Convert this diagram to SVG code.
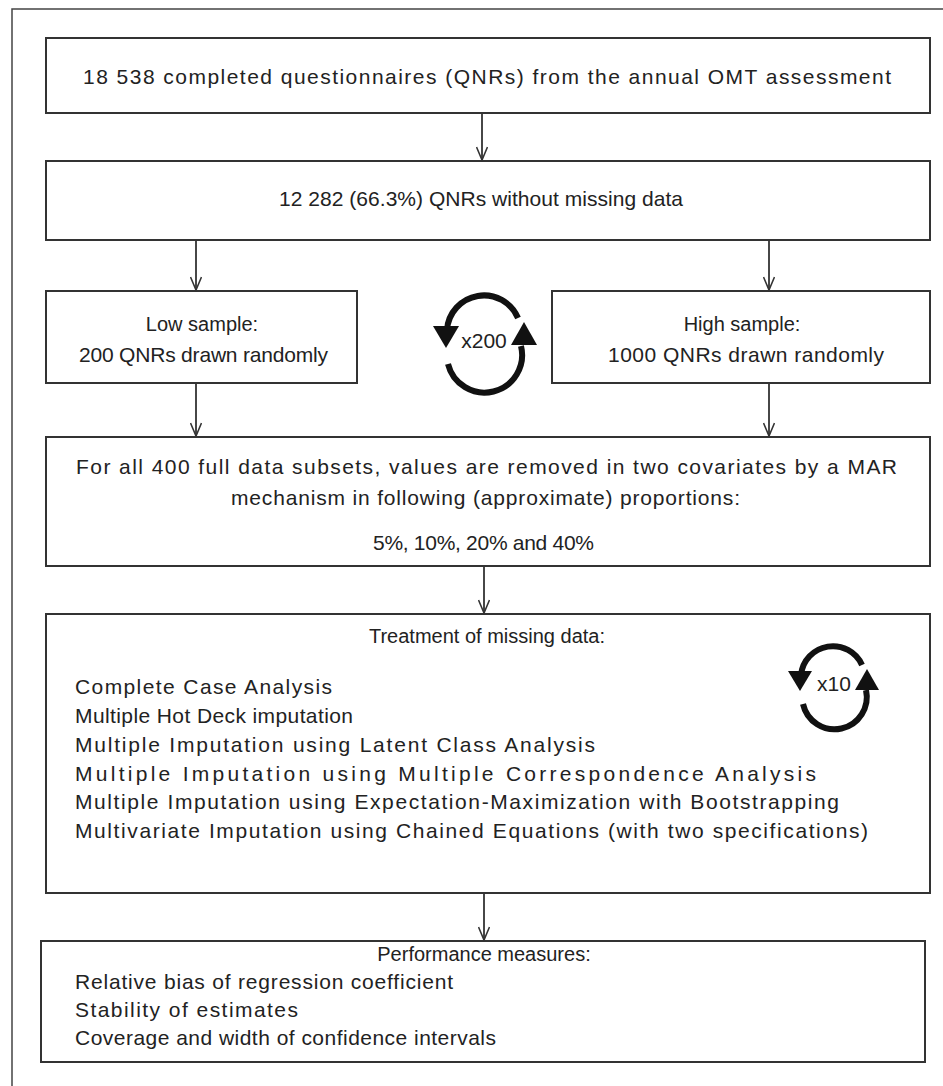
<svg xmlns="http://www.w3.org/2000/svg" width="943" height="1086" viewBox="0 0 943 1086">
<style>
.box{fill:#fff;stroke:#333;stroke-width:2}
.t{font-family:"Liberation Sans",Arial,sans-serif;font-size:21px;fill:#222}
.h{font-size:20px}
.c{text-anchor:middle}
.con{stroke:#333;stroke-width:1.8;fill:none;marker-end:url(#vh)}
.cyc{stroke:#111;stroke-width:6;fill:none}
.ah{fill:#111}
</style>
<defs>
<marker id="vh" markerWidth="16" markerHeight="12" refX="14" refY="6" orient="auto" markerUnits="userSpaceOnUse">
<path d="M1,0.5 L14,6 L1,11.5" fill="none" stroke="#333" stroke-width="1.6"/>
</marker>
</defs>
<rect x="12" y="9" width="940" height="1090" fill="#fff" stroke="#444" stroke-width="1.5"/>
<g id="n1">
<rect class="box" x="46" y="38" width="884" height="75"/>
<text class="t" x="83" y="84" textLength="808" lengthAdjust="spacing">18 538 completed questionnaires (QNRs) from the annual OMT assessment</text>
</g>
<g id="n2">
<rect class="box" x="46" y="161" width="884" height="79"/>
<text class="t" x="279" y="206" textLength="404" lengthAdjust="spacing">12 282 (66.3%) QNRs without missing data</text>
</g>
<g id="n3">
<rect class="box" x="46" y="291" width="311" height="92"/>
<text class="t h c" x="202" y="331">Low sample:</text>
<text class="t" x="79" y="362" textLength="249" lengthAdjust="spacing">200 QNRs drawn randomly</text>
</g>
<g id="n4">
<rect class="box" x="552" y="291" width="378" height="92"/>
<text class="t h c" x="742" y="331">High sample:</text>
<text class="t" x="608" y="362" textLength="276" lengthAdjust="spacing">1000 QNRs drawn randomly</text>
</g>
<g id="loop200">
<path class="cyc" d="M447,330 A37,37 0 0 1 518,318"/>
<path class="ah" d="M433,326 L459,326 L446,348 Z"/>
<path class="cyc" d="M448,364 A37,37 0 0 0 521,346"/>
<path class="ah" d="M511,345 L537,345 L524,322 Z"/>
<text class="t c" x="484" y="348" font-size="17" fill="#333">x200</text>
</g>
<g id="n5">
<rect class="box" x="46" y="437" width="884" height="129"/>
<text class="t" x="76" y="474" textLength="821" lengthAdjust="spacing">For all 400 full data subsets, values are removed in two covariates by a MAR</text>
<text class="t" x="231" y="505" textLength="509" lengthAdjust="spacing">mechanism in following (approximate) proportions:</text>
<text class="t" x="373" y="550" textLength="221" lengthAdjust="spacing">5%, 10%, 20% and 40%</text>
</g>
<g id="n6">
<rect class="box" x="46" y="614" width="884" height="279"/>
<text class="t h c" x="487" y="643">Treatment of missing data:</text>
<text class="t" x="75" y="694" textLength="257" lengthAdjust="spacing">Complete Case Analysis</text>
<text class="t" x="75" y="723" textLength="278" lengthAdjust="spacing">Multiple Hot Deck imputation</text>
<text class="t" x="75" y="752" textLength="520" lengthAdjust="spacing">Multiple Imputation using Latent Class Analysis</text>
<text class="t" x="75" y="781" textLength="741" lengthAdjust="spacing">Multiple Imputation using Multiple Correspondence Analysis</text>
<text class="t" x="75" y="809" textLength="764" lengthAdjust="spacing">Multiple Imputation using Expectation-Maximization with Bootstrapping</text>
<text class="t" x="75" y="838" textLength="793" lengthAdjust="spacing">Multivariate Imputation using Chained Equations (with two specifications)</text>
</g>
<g id="loop10">
<path class="cyc" d="M801,675 A32,32 0 0 1 862,665"/>
<path class="ah" d="M788,671 L812,671 L800,691 Z"/>
<path class="cyc" d="M803,704 A32,32 0 0 0 866,690"/>
<path class="ah" d="M855,690 L879,690 L867,669 Z"/>
<text class="t c" x="834" y="691" font-size="17" fill="#333">x10</text>
</g>
<g id="n7">
<rect class="box" x="41" y="941" width="884" height="121"/>
<text class="t h c" x="484" y="961">Performance measures:</text>
<text class="t" x="75" y="989" textLength="378" lengthAdjust="spacing">Relative bias of regression coefficient</text>
<text class="t" x="75" y="1017" textLength="223" lengthAdjust="spacing">Stability of estimates</text>
<text class="t" x="75" y="1045" textLength="421" lengthAdjust="spacing">Coverage and width of confidence intervals</text>
</g>
<g id="connectors">
<line class="con" x1="482" y1="113" x2="482" y2="160"/>
<line class="con" x1="196" y1="240" x2="196" y2="290"/>
<line class="con" x1="769" y1="240" x2="769" y2="290"/>
<line class="con" x1="196" y1="383" x2="196" y2="436"/>
<line class="con" x1="769" y1="383" x2="769" y2="436"/>
<line class="con" x1="484" y1="566" x2="484" y2="613"/>
<line class="con" x1="484" y1="893" x2="484" y2="940"/>
</g>
</svg>
